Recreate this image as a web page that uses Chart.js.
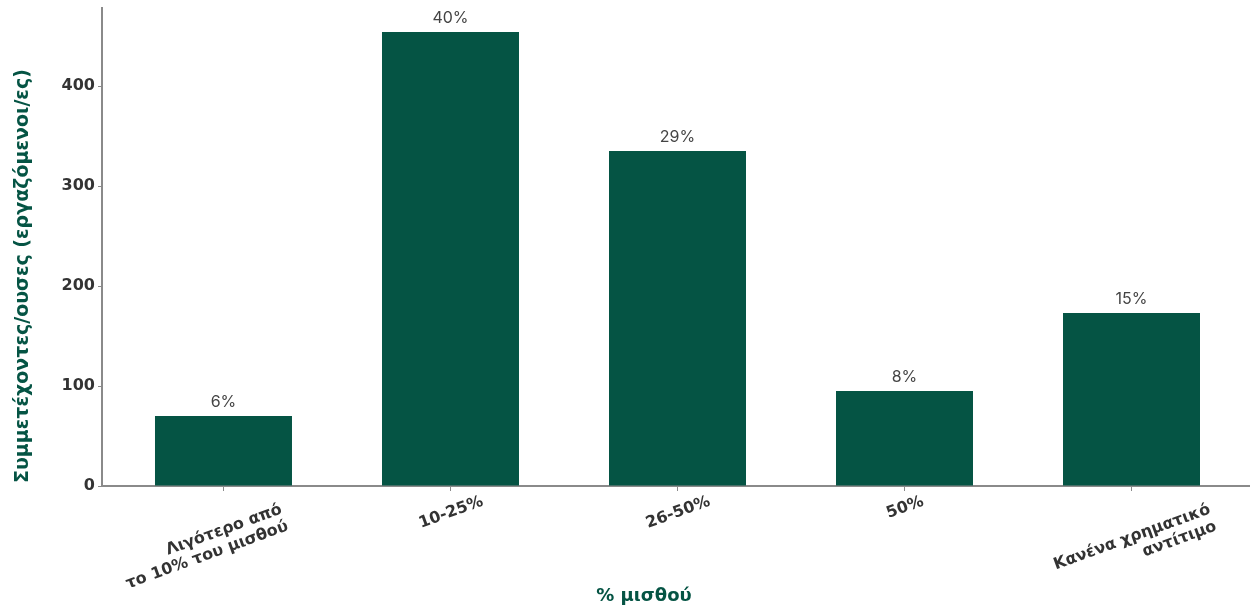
<!DOCTYPE html>
<html>
<head>
<meta charset="utf-8">
<script src="https://cdn.jsdelivr.net/npm/chart.js@4.4.0/dist/chart.umd.min.js"></script>
<style>
  html, body { margin: 0; padding: 0; background: #ffffff; }
  #wrap { width: 1250px; height: 609px; position: relative; }
</style>
</head>
<body>
<div id="wrap"><canvas id="chart"></canvas></div>
<script>
// Salary share groups (multi-line category labels)
const categories = [
  ["Λιγότερο από", "το 10% του μισθού"],
  ["10-25%"],
  ["26-50%"],
  ["50%"],
  ["Κανένα χρηματικό", "αντίτιμο"]
];
// Number of participants per group
const participants = [70, 454, 335, 95, 173];
// Share labels printed above the bars
const shareLabels = ["6%", "40%", "29%", "8%", "15%"];
// Y axis
const yTickValues = [0, 100, 200, 300, 400];
const yMax = 478;
const yTitle = "Συμμετέχοντες/ουσες (εργαζόμενοι/ες)";
const xTitle = "% μισθού";

const GREEN = "#055444";
const BOLD_FONT = "'DejaVu Sans', sans-serif";
const VALUE_FONT = "Inter, 'Noto Sans', sans-serif";
const AXIS = "#8a8a8a";
const TICK_TEXT = "#333333";

const barData = participants.map((v, i) => ({ x: i, y: v }));

const textPlugin = {
  id: "textPlugin",
  afterDatasetsDraw(chart) {
    const ctx = chart.ctx;
    const meta = chart.getDatasetMeta(0);
    ctx.save();
    ctx.font = "16px " + VALUE_FONT;
    ctx.fillStyle = "#444444";
    ctx.textAlign = "center";
    ctx.textBaseline = "alphabetic";
    meta.data.forEach((bar, i) => {
      ctx.fillText(shareLabels[i], bar.x, bar.y - 9);
    });
    ctx.restore();
  },
  afterDraw(chart) {
    const ctx = chart.ctx;
    const xs = chart.scales.x;
    const area = chart.chartArea;
    const rot = 20 * Math.PI / 180;
    const lh = 18;

    // rotated category labels
    ctx.save();
    ctx.font = "bold 16px " + BOLD_FONT;
    ctx.fillStyle = TICK_TEXT;
    ctx.textAlign = "right";
    ctx.textBaseline = "alphabetic";
    categories.forEach((lines, i) => {
      const px = xs.getPixelForValue(i);
      const w1 = ctx.measureText(lines[0]).width;
      const ax = px + w1 * Math.cos(rot) / 2 + 2;
      const ay = area.bottom + 19 + (lines.length - 1) * 8;
      ctx.save();
      ctx.translate(ax, ay);
      ctx.rotate(-rot);
      lines.forEach((line, k) => ctx.fillText(line, 0, k * lh));
      ctx.restore();
    });
    ctx.restore();

    // axis titles
    ctx.save();
    ctx.fillStyle = GREEN;
    ctx.font = "bold 18px " + BOLD_FONT;
    ctx.textAlign = "center";
    ctx.textBaseline = "alphabetic";
    ctx.fillText(xTitle, 644, 601);

    ctx.font = "bold 19px " + BOLD_FONT;
    ctx.translate(28, area.bottom - 3);
    ctx.rotate(-Math.PI / 2);
    ctx.textAlign = "left";
    ctx.fillText(yTitle, 0, 0);
    ctx.restore();
  }
};

new Chart(document.getElementById("chart"), {
  type: "bar",
  data: {
    datasets: [{
      data: barData,
      backgroundColor: GREEN,
      borderWidth: 0,
      barPercentage: 0.6035,
      categoryPercentage: 1.0
    }]
  },
  options: {
    responsive: true,
    maintainAspectRatio: false,
    animation: false,
    layout: { padding: { top: 8, right: 0, bottom: 0, left: 0 } },
    plugins: {
      legend: { display: false },
      tooltip: { enabled: false }
    },
    scales: {
      x: {
        type: "linear",
        offset: false,
        min: -0.5352,
        max: 4.522,
        afterFit(s) { s.height = 123; s.paddingLeft = 0; s.paddingRight = 0; },
        ticks: { stepSize: 1, includeBounds: false, display: false },
        grid: { offset: false, drawOnChartArea: false, drawTicks: true, tickLength: 5, color: AXIS, lineWidth: 1 },
        border: { display: true, color: AXIS, width: 2 }
      },
      y: {
        min: 0,
        max: yMax,
        afterFit(s) { s.width = 102; s.paddingTop = 0; s.paddingBottom = 0; },
        afterBuildTicks(s) { s.ticks = yTickValues.map(v => ({ value: v })); },
        ticks: {
          stepSize: 100,
          includeBounds: false,
          padding: 3,
          color: TICK_TEXT,
          font: { family: BOLD_FONT, size: 16, weight: "bold" }
        },
        grid: { drawOnChartArea: false, drawTicks: true, tickLength: 4, color: AXIS, lineWidth: 1 },
        border: { display: true, color: AXIS, width: 2 }
      }
    }
  },
  plugins: [textPlugin]
});
</script>
</body>
</html>
